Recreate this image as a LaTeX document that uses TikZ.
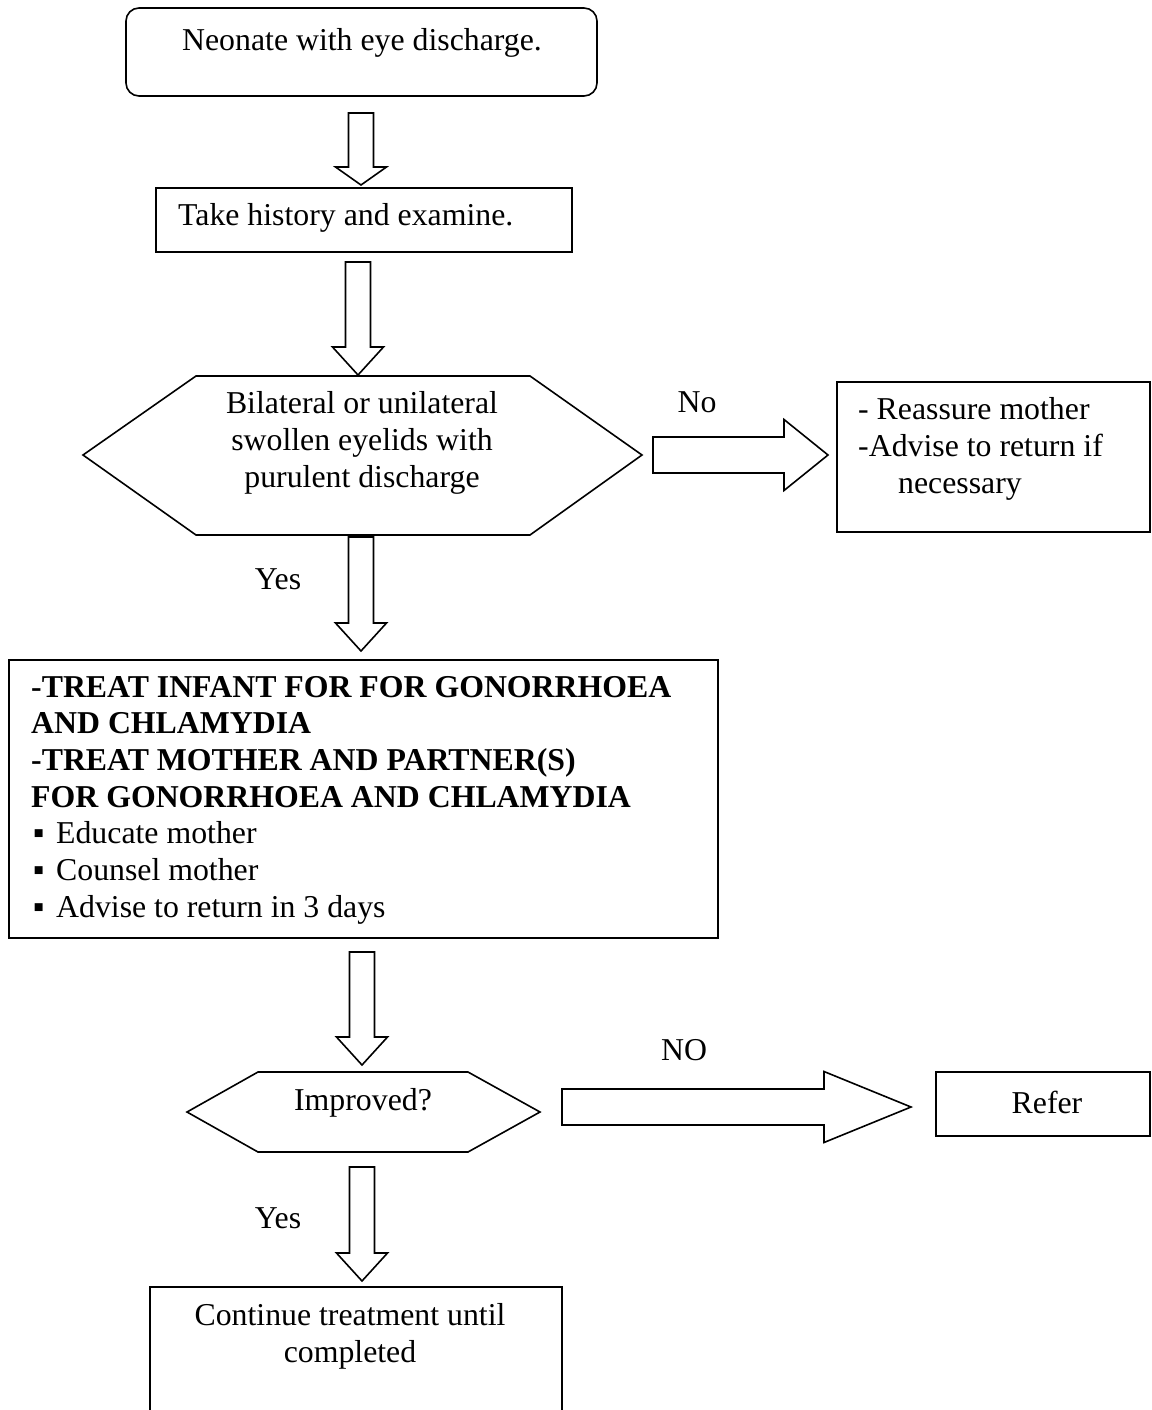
\documentclass[tikz,border=0pt]{standalone}
\usepackage{fontspec}
\setmainfont{Liberation Serif}
\usetikzlibrary{calc}

\tikzset{
  every node/.style={font=\fontsize{31.8pt}{36.7pt}\selectfont, inner sep=0pt},
  box/.style={draw=black, line width=1.6pt, fill=white},
  blk/.style={draw=black, line width=1.6pt, fill=white, line join=miter},
  hexa/.style={draw=black, line width=1.6pt, fill=white, line join=miter},
}

% hollow block arrow pointing down: #1 top of shaft, #2 tip, #3 head length
\newcommand\downblock[3]{%
  \draw[blk] let \p1=(#1), \p2=(#2) in
    (\x1-12.5pt,\y1) -- (\x1+12.5pt,\y1) -- (\x1+12.5pt,\y2+#3) -- (\x1+25.5pt,\y2+#3)
    -- (\x1,\y2) -- (\x1-25.5pt,\y2+#3) -- (\x1-12.5pt,\y2+#3) -- cycle;}

% hollow block arrow pointing right: #1 tail, #2 tip, #3 head length
\newcommand\rightblock[3]{%
  \draw[blk] let \p1=(#1), \p2=(#2) in
    (\x1,\y1+18pt) -- (\x2-#3,\y1+18pt) -- (\x2-#3,\y1+35.5pt) -- (\x2,\y1)
    -- (\x2-#3,\y1-35.5pt) -- (\x2-#3,\y1-18pt) -- (\x1,\y1-18pt) -- cycle;}

\begin{document}
\begin{tikzpicture}[x=1pt,y=-1pt]
\fill[white] (0,0) rectangle (1151,1410);
\useasboundingbox (0,0) rectangle (1151,1410);

% start box
\node[box, rounded corners=13pt, minimum width=471pt, minimum height=88pt] (start) at (361.5,52) {};
\node (startTxt) at (362,43) {Neonate with eye discharge.};

% history box
\node[box, minimum width=416pt, minimum height=64pt] (hist) at (364,220) {};
\node[anchor=west] (histTxt) at (178,218) {Take history and examine.};

% first decision
\draw[hexa] (196,376) -- (530,376) -- (642,455) -- (530,535) -- (196,535) -- (83,455) -- cycle;
\node[align=center] (decTxt) at (362,443) {Bilateral or unilateral\\swollen eyelids with\\purulent discharge};

% reassure box
\node[box, minimum width=313pt, minimum height=150pt] (reassure) at (993.5,457) {};
\node[anchor=west, align=left] (reassureTxt) at (858,449)
  {- Reassure mother\\-Advise to return if\\\hspace*{40pt}necessary};

% treatment box
\node[box, minimum width=709pt, minimum height=278pt] (treat) at (363.5,799) {};
\node[anchor=west, align=left] (treatTxt) at (31,800)
  {\textbf{-TREAT INFANT FOR FOR GONORRHOEA}\\
   \textbf{AND CHLAMYDIA}\\
   \textbf{-TREAT MOTHER AND PARTNER(S)}\\
   \textbf{FOR GONORRHOEA AND CHLAMYDIA}\\
   \makebox[25pt][l]{\hspace*{2pt}▪}Educate mother\\
   \makebox[25pt][l]{\hspace*{2pt}▪}Counsel mother\\
   \makebox[25pt][l]{\hspace*{2pt}▪}Advise to return in 3 days};

% second decision
\draw[hexa] (258,1072) -- (468,1072) -- (540,1112) -- (468,1152) -- (258,1152) -- (187,1112) -- cycle;
\node (improvedTxt) at (363,1103) {Improved?};

% refer box
\node[box, minimum width=214pt, minimum height=64pt] (refer) at (1043,1104) {};
\node (referTxt) at (1047,1102) {Refer};

% continue box
\node[box, minimum width=412pt, minimum height=153pt] (cont) at (356,1363.5) {};
\node[align=center] (contTxt) at (350,1336) {Continue treatment until\\completed};

% arrow end points
\coordinate (a1s) at (361,113);  \coordinate (a1e) at (361,185);
\coordinate (a2s) at (358,262);  \coordinate (a2e) at (358,375);
\coordinate (a3s) at (361,537);  \coordinate (a3e) at (361,651);
\coordinate (a4s) at (362,952);  \coordinate (a4e) at (362,1065);
\coordinate (a5s) at (362,1167); \coordinate (a5e) at (362,1281);
\coordinate (r1s) at (653,455);  \coordinate (r1e) at (828,455);
\coordinate (r2s) at (562,1107); \coordinate (r2e) at (911,1107);

\downblock{a1s}{a1e}{18pt}
\downblock{a2s}{a2e}{28pt}
\downblock{a3s}{a3e}{28pt}
\downblock{a4s}{a4e}{28pt}
\downblock{a5s}{a5e}{28pt}
\rightblock{r1s}{r1e}{44pt}
\rightblock{r2s}{r2e}{87pt}

% branch labels
\node (noA) at (697,402) {No};
\node (yesA) at (278,579) {Yes};
\node (noB) at (684,1050) {NO};
\node (yesB) at (278,1218) {Yes};
\end{tikzpicture}
\end{document}
